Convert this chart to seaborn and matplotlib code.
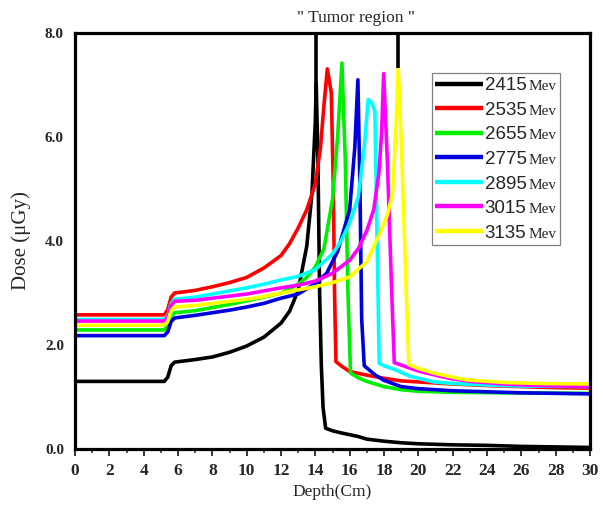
import numpy as np
import pandas as pd
import seaborn as sns
import matplotlib
matplotlib.use("Agg")
import matplotlib.pyplot as plt
from matplotlib.offsetbox import AnchoredOffsetbox, HPacker, VPacker, TextArea, DrawingArea
from matplotlib.lines import Line2D

# ---------------- data ----------------
energies = ["2415", "2535", "2655", "2775", "2895", "3015", "3135"]
colors = ["#000000", "#ff0000", "#00ee00", "#0000dd", "#00ffff", "#ff00ff", "#ffff00"]

x_2415 = [0, 5.2, 5.4, 5.6, 5.8, 7, 8, 9, 10, 11, 12, 12.5, 13, 13.5, 13.8, 14.0, 14.05, 14.15, 14.25, 14.35, 14.45, 14.6, 15, 15.5, 16.5, 17, 18, 19, 20, 22, 24, 26, 28, 30]
y_2415 = [1.3, 1.3, 1.38, 1.6, 1.67, 1.72, 1.77, 1.86, 1.98, 2.15, 2.42, 2.65, 3.05, 3.9, 4.9, 6.3, 7.04, 5.6, 3.0, 1.6, 0.8, 0.4, 0.35, 0.31, 0.24, 0.19, 0.15, 0.12, 0.1, 0.08, 0.07, 0.05, 0.04, 0.03]

x_2535 = [0, 5.2, 5.4, 5.6, 5.8, 7, 8, 9, 10, 11, 12, 12.5, 13, 13.5, 14, 14.3, 14.5, 14.7, 14.93, 15.05, 15.12, 15.2, 15.5, 16, 17, 18, 19, 20, 22, 24, 26, 28, 30]
y_2535 = [2.58, 2.58, 2.68, 2.92, 3.0, 3.05, 3.12, 3.2, 3.3, 3.48, 3.72, 3.95, 4.25, 4.6, 5.1, 5.8, 6.6, 7.31, 6.85, 5.0, 3.0, 1.68, 1.6, 1.49, 1.42, 1.36, 1.31, 1.29, 1.25, 1.22, 1.2, 1.18, 1.17]

x_2655 = [0, 5.2, 5.4, 5.6, 5.8, 7, 8, 9, 10, 11, 12, 13, 13.5, 14, 14.5, 15, 15.3, 15.55, 15.75, 15.9, 16.05, 16.5, 17, 18, 19, 20, 22, 25, 30]
y_2655 = [2.29, 2.29, 2.36, 2.56, 2.62, 2.66, 2.72, 2.78, 2.85, 2.92, 3.0, 3.17, 3.3, 3.5, 3.85, 4.8, 6.0, 7.42, 5.5, 3.0, 1.46, 1.37, 1.3, 1.2, 1.14, 1.11, 1.09, 1.08, 1.07]

x_2775 = [0, 5.2, 5.4, 5.6, 5.8, 7, 8, 9, 10, 11, 12, 13, 14, 14.66, 15.3, 16, 16.3, 16.48, 16.6, 16.7, 16.85, 17.5, 18, 19, 20, 22, 24, 26, 28, 30]
y_2775 = [2.18, 2.18, 2.25, 2.45, 2.52, 2.57, 2.62, 2.67, 2.73, 2.8, 2.9, 2.98, 3.18, 3.38, 3.8, 4.6, 5.8, 7.1, 5.0, 2.5, 1.6, 1.42, 1.32, 1.2, 1.16, 1.12, 1.1, 1.08, 1.07, 1.06]

x_2895 = [0, 5.2, 5.4, 5.6, 5.8, 7, 8, 9, 10, 11, 12, 13, 14, 15, 15.5, 16, 16.5, 16.85, 17.08, 17.3, 17.47, 17.6, 17.72, 18, 18.7, 19.5, 20.9, 22, 24, 26, 30]
y_2895 = [2.49, 2.49, 2.56, 2.8, 2.88, 2.92, 2.98, 3.04, 3.1, 3.17, 3.25, 3.32, 3.45, 3.75, 4.0, 4.35, 4.85, 5.8, 6.72, 6.65, 6.49, 4.0, 1.65, 1.6, 1.52, 1.4, 1.29, 1.26, 1.23, 1.21, 1.2]

x_3015 = [0, 5.2, 5.4, 5.6, 5.8, 7, 8, 9, 10, 11, 12, 13, 14, 15, 16, 16.5, 17, 17.4, 17.7, 17.86, 17.98, 18.2, 18.45, 18.6, 19.3, 20, 21, 21.8, 23, 25, 27, 30]
y_3015 = [2.46, 2.46, 2.53, 2.76, 2.84, 2.86, 2.9, 2.94, 2.98, 3.04, 3.1, 3.15, 3.23, 3.38, 3.63, 3.85, 4.2, 4.6, 5.3, 6.07, 7.22, 5.5, 3.0, 1.66, 1.58, 1.5, 1.42, 1.36, 1.3, 1.25, 1.22, 1.2]

x_3135 = [0, 5.2, 5.4, 5.6, 5.8, 7, 8, 9, 10, 11, 12, 13, 14, 15, 16, 17, 17.76, 18.2, 18.5, 18.7, 18.83, 19.0, 19.3, 19.45, 20, 20.9, 22, 22.8, 25, 27, 30]
y_3135 = [2.38, 2.38, 2.45, 2.66, 2.73, 2.76, 2.8, 2.84, 2.88, 2.93, 3.0, 3.06, 3.12, 3.2, 3.31, 3.6, 4.15, 4.5, 4.92, 6.2, 7.32, 6.0, 3.0, 1.62, 1.55, 1.46, 1.38, 1.33, 1.28, 1.26, 1.25]

# tumor region boundary markers (depth, lower dose end)
tumor_x = [14.05, 18.83]
tumor_ymin = [7.04, 7.32]

x_ticks = list(range(0, 31, 2))
y_ticks = [0.0, 2.0, 4.0, 6.0, 8.0]

series_x = [x_2415, x_2535, x_2655, x_2775, x_2895, x_3015, x_3135]
series_y = [y_2415, y_2535, y_2655, y_2775, y_2895, y_3015, y_3135]

frames = []
for e, xs, ys in zip(energies, series_x, series_y):
    frames.append(pd.DataFrame({"Depth": xs, "Dose": ys, "Energy": e}))
df = pd.concat(frames, ignore_index=True)

# ---------------- plot ----------------
sns.set_style("white")
plt.rcParams["font.family"] = ["Liberation Serif", "DejaVu Serif"]

fig = plt.figure(figsize=(6.03, 5.05), dpi=100)
ax = fig.add_axes([75 / 603, 1 - 449 / 505, 515 / 603, 416 / 505])

sns.lineplot(data=df, x="Depth", y="Dose", hue="Energy", hue_order=energies,
             palette=colors, estimator=None, sort=False, legend=False,
             linewidth=2.6, ax=ax)

ax.vlines(tumor_x, tumor_ymin, 8.0, colors="black", linewidth=2.6)

ax.set_xlim(0, 30)
ax.set_ylim(0, 8)
ax.set_xticks(x_ticks)
ax.set_xticks(range(1, 30, 2), minor=True)
ax.set_yticks(y_ticks)
ax.set_xticklabels([str(t) for t in x_ticks], fontsize=12.5, fontweight="bold")
ax.set_yticklabels([f"{t:.1f}" for t in y_ticks], fontsize=11, fontweight="bold")
ax.tick_params(axis="x", which="major", direction="out", length=5, width=1.3, pad=5, bottom=True)
ax.tick_params(axis="x", which="minor", direction="out", length=3, width=1.1, bottom=True)
ax.tick_params(axis="y", which="both", length=0, pad=8)

for s in ax.spines.values():
    s.set_linewidth(2.3)
    s.set_color("black")

ax.set_xlabel("Depth(Cm)", fontsize=12.5, labelpad=4)
ax.set_ylabel("Dose (\u03bcGy)", fontsize=15)
ax.yaxis.set_label_coords(-0.085, 0.5)

ax.text(0.545, 1.036, "\" Tumor region \"", transform=ax.transAxes,
        ha="center", va="center", fontsize=12.5)

# ---------------- legend ----------------
rows = []
for e, c in zip(energies, colors):
    da = DrawingArea(34, 10, 0, 0)
    da.add_artist(Line2D([0, 34], [4.8, 4.8], color=c, linewidth=3.2, solid_capstyle="butt"))
    t1 = TextArea(e, textprops=dict(family="Liberation Sans", size=13.5))
    t2 = TextArea("Mev", textprops=dict(family="Liberation Serif", size=11))
    rows.append(HPacker(children=[da, t1, t2], align="baseline", pad=0, sep=1.5))
box = VPacker(children=rows, align="left", pad=0, sep=4.8)
anch = AnchoredOffsetbox(loc="upper left", child=box, pad=0.25, borderpad=0,
                         bbox_to_anchor=(432 / 603, 1 - 73 / 505),
                         bbox_transform=fig.transFigure, frameon=True)
anch.patch.set_edgecolor("#808080")
anch.patch.set_linewidth(0.9)
anch.patch.set_boxstyle("square", pad=0)
ax.add_artist(anch)

fig.savefig("out.png", dpi=100)
